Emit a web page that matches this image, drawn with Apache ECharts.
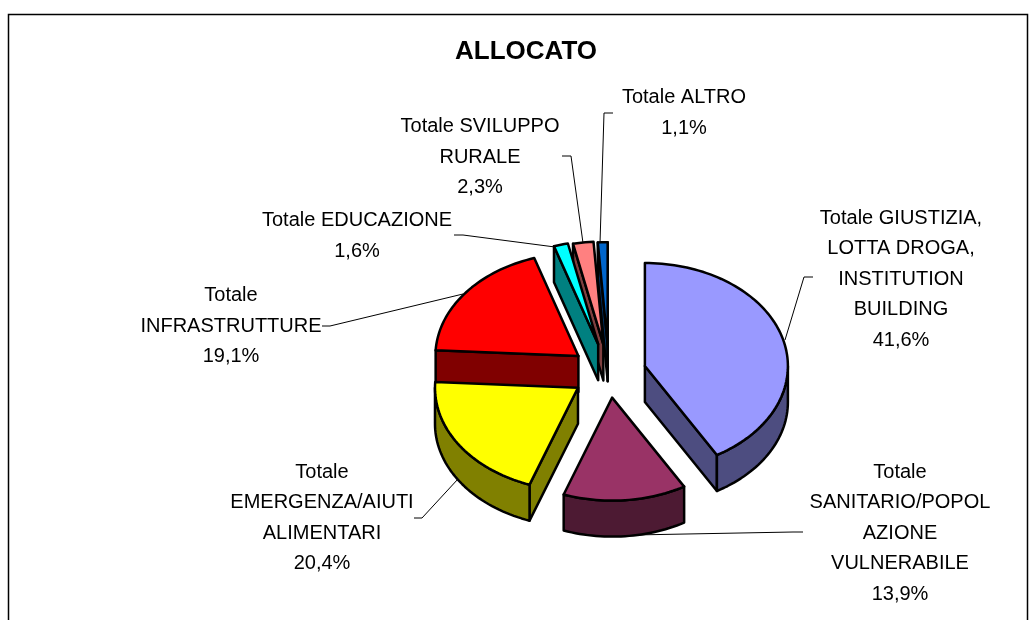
<!DOCTYPE html>
<html lang="it">

<head>
  <meta charset="UTF-8">
  <title>ALLOCATO</title>
  <script src="https://cdn.jsdelivr.net/npm/echarts@6/dist/echarts.min.js"></script>
  <style>
    html, body { margin: 0; padding: 0; background: #fff; }
    #chart { width: 1031px; height: 620px; }
  </style>
</head>

<body>
  <div id="chart"></div>

  <script>
    // percentages, clockwise from 12 o'clock
    var categories = [
      'Totale GIUSTIZIA,\nLOTTA DROGA,\nINSTITUTION\nBUILDING',
      'Totale\nSANITARIO/POPOL\nAZIONE\nVULNERABILE',
      'Totale\nEMERGENZA/AIUTI\nALIMENTARI',
      'Totale\nINFRASTRUTTURE',
      'Totale EDUCAZIONE',
      'Totale SVILUPPO\nRURALE',
      'Totale ALTRO'
    ]
    var values = [41.6, 13.9, 20.4, 19.1, 1.6, 2.3, 1.1]
    var topColors = ['#9999FF', '#993366', '#FFFF00', '#FF0000', '#00FFFF', '#FF8080', '#0066CC']
    var wallColors = ['#4D4D80', '#4D1A33', '#808000', '#800000', '#008080', '#804040', '#003366']
    var explode = [0.26, 0.24, 0.26, 0.27, 0.29, 0.28, 0.27]
    var drawOrder = [6, 5, 4, 3, 0, 1, 2] // back slices first

    // pie layout
    var cx = 609, cy = 373, rx = 143, ry = 103, depth = 36

    // label centres and leader lines, same order as categories
    var labelPos = [[901, 279], [900, 533], [322, 518], [231, 326], [357, 236], [480, 157], [684, 113]]
    var leaders = [
      [[813, 277], [804, 277], [785, 340]],
      [[803, 532], [793, 532], [633, 535]],
      [[414, 518], [422, 518], [458, 479]],
      [[322, 326], [330, 326], [463, 294]],
      [[454, 235], [463, 235], [555, 247]],
      [[562, 156], [571, 156], [583, 243]],
      [[613, 113], [604, 113], [600, 243]]
    ]

    var total = values.reduce(function (a, b) { return a + b }, 0)
    var starts = []
    values.reduce(function (sum, v, i) {
      starts[i] = sum / total * Math.PI * 2
      return sum + v
    }, 0)

    function arcPoints(px, py, a0, a1) {
      var n = Math.max(2, Math.ceil((a1 - a0) / 0.03))
      var pts = []
      for (var i = 0; i <= n; i++) {
        var a = a0 + (a1 - a0) * i / n
        pts.push([px + rx * Math.sin(a), py - ry * Math.cos(a)])
      }
      return pts
    }

    function face(points, fill) {
      return {
        type: 'polygon',
        shape: { points: points },
        style: { fill: fill, stroke: '#000', lineWidth: 2.5, lineJoin: 'round' }
      }
    }

    function drop(points) {
      return points.map(function (p) { return [p[0], p[1] + depth] }).reverse()
    }

    function renderSlice(params, api) {
      var i = api.value(0)
      var a0 = starts[i]
      var a1 = a0 + values[i] / total * Math.PI * 2
      var mid = (a0 + a1) / 2
      var px = cx + explode[i] * rx * Math.sin(mid)
      var py = cy - explode[i] * ry * Math.cos(mid)
      var children = []
      var top = arcPoints(px, py, a0, a1)

      // radial walls that face the viewer
      if (Math.sin(a0) < 0) {
        var s = [[px, py], top[0]]
        children.push(face(s.concat(drop(s)), wallColors[i]))
      }
      if (Math.sin(a1) > 0) {
        var e = [[px, py], top[top.length - 1]]
        children.push(face(e.concat(drop(e)), wallColors[i]))
      }
      // outer wall, only the lower half of the rim shows
      var w0 = Math.max(a0, Math.PI / 2)
      var w1 = Math.min(a1, Math.PI * 1.5)
      if (w1 > w0) {
        var rim = arcPoints(px, py, w0, w1)
        children.push(face(rim.concat(drop(rim)), wallColors[i]))
      }
      children.push(face([[px, py]].concat(top), topColors[i]))
      return { type: 'group', children: children }
    }

    function percent(v) {
      return v.toFixed(1).replace('.', ',') + '%'
    }

    var mCharts = echarts.init(document.getElementById('chart'), null, { renderer: 'canvas' })
    var option = {
      animation: false,
      backgroundColor: '#fff',
      title: {
        text: 'ALLOCATO',
        left: 521,
        top: 34,
        textAlign: 'center',
        textStyle: { fontFamily: 'Liberation Sans', fontSize: 26, fontWeight: 'bold', color: '#000' }
      },
      graphic: [
        {
          type: 'rect',
          shape: { x: 8.5, y: 14.5, width: 1019, height: 700 },
          style: { fill: 'none', stroke: '#000', lineWidth: 1.5 }
        }
      ].concat(leaders.map(function (line) {
        return {
          type: 'polyline',
          z: 1,
          shape: { points: line },
          style: { fill: 'none', stroke: '#000', lineWidth: 1 }
        }
      })).concat(categories.map(function (name, i) {
        return {
          type: 'text',
          x: labelPos[i][0],
          y: labelPos[i][1],
          style: {
            text: name + '\n' + percent(values[i]),
            align: 'center',
            verticalAlign: 'middle',
            fontFamily: 'Liberation Sans',
            fontSize: 20,
            lineHeight: 30.5,
            fill: '#000'
          }
        }
      })),
      series: [
        {
          type: 'custom',
          coordinateSystem: 'none',
          z: 2,
          silent: true,
          data: drawOrder.map(function (i) { return [i] }),
          renderItem: renderSlice
        }
      ]
    }
    mCharts.setOption(option)
  </script>
</body>

</html>
